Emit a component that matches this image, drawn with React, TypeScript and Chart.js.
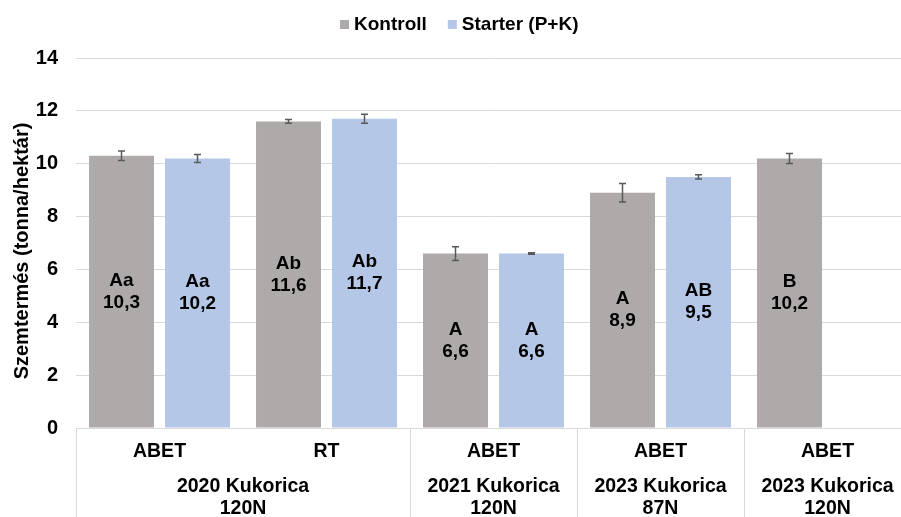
import React, { useEffect, useRef } from "react";
import { Chart, registerables } from "chart.js";

Chart.register(...registerables);

const categories = ["ABET", "RT", "ABET", "ABET", "ABET"];
const groupLabels = [
  { from: 0, to: 1, lines: ["2020 Kukorica", "120N"] },
  { from: 2, to: 2, lines: ["2021 Kukorica", "120N"] },
  { from: 3, to: 3, lines: ["2023 Kukorica", "87N"] },
  { from: 4, to: 4, lines: ["2023 Kukorica", "120N"] },
];
const kontrollValues = [10.3, 11.6, 6.6, 8.9, 10.2];
const starterValues: (number | null)[] = [10.2, 11.7, 6.6, 9.5, null];
const kontrollErrors = [0.18, 0.07, 0.26, 0.35, 0.19];
const starterErrors: (number | null)[] = [0.15, 0.17, 0.03, 0.08, null];
const kontrollLetters = ["Aa", "Ab", "A", "A", "B"];
const starterLetters: (string | null)[] = ["Aa", "Ab", "A", "AB", null];
const seriesNames = ["Kontroll", "Starter (P+K)"];
const seriesColors = ["#aeaaa9", "#b4c7e7"];
const yTitle = "Szemtermés (tonna/hektár)";

const FONT = "'Liberation Sans', Arial, sans-serif";

const customPlugin = {
  id: "custom",
  afterDatasetsDraw(chart: any) {
    const ctx = chart.ctx;
    const y = chart.scales.y;
    const x = chart.scales.x;
    const errs = [kontrollErrors, starterErrors];
    const letters = [kontrollLetters, starterLetters];
    ctx.save();
    chart.data.datasets.forEach((ds: any, di: number) => {
      const meta = chart.getDatasetMeta(di);
      meta.data.forEach((el: any, i: number) => {
        const v = ds.data[i];
        if (v == null) return;
        const e = errs[di][i];
        if (e != null) {
          const yt = y.getPixelForValue(v + e);
          const yb = y.getPixelForValue(v - e);
          ctx.strokeStyle = "#595959";
          ctx.lineWidth = 1.5;
          ctx.beginPath();
          ctx.moveTo(el.x, yt);
          ctx.lineTo(el.x, yb);
          ctx.moveTo(el.x - 3.5, yt);
          ctx.lineTo(el.x + 3.5, yt);
          ctx.moveTo(el.x - 3.5, yb);
          ctx.lineTo(el.x + 3.5, yb);
          ctx.stroke();
        }
        const mid = (el.y + el.base) / 2;
        ctx.fillStyle = "#000";
        ctx.font = `bold 19px ${FONT}`;
        ctx.textAlign = "center";
        ctx.textBaseline = "middle";
        ctx.fillText(letters[di][i] ?? "", el.x, mid - 11);
        ctx.fillText(v.toFixed(1).replace(".", ","), el.x, mid + 11);
      });
    });

    // x axis box
    const area = chart.chartArea;
    const bottom = chart.height;
    ctx.strokeStyle = "#d9d9d9";
    ctx.lineWidth = 1;
    ctx.beginPath();
    ctx.moveTo(area.left + 0.5, area.bottom);
    ctx.lineTo(area.left + 0.5, bottom);
    groupLabels.forEach((g) => {
      if (g.to < categories.length - 1) {
        const bx = Math.round((x.getPixelForValue(g.to) + x.getPixelForValue(g.to + 1)) / 2) + 0.5;
        ctx.moveTo(bx, area.bottom);
        ctx.lineTo(bx, bottom);
      }
    });
    ctx.stroke();

    ctx.fillStyle = "#000";
    ctx.font = `bold 19.5px ${FONT}`;
    ctx.textAlign = "center";
    ctx.textBaseline = "middle";
    categories.forEach((c, i) => {
      ctx.fillText(c, x.getPixelForValue(i), area.bottom + 24);
    });
    groupLabels.forEach((g) => {
      const cx = (x.getPixelForValue(g.from) + x.getPixelForValue(g.to)) / 2;
      g.lines.forEach((l, li) => {
        ctx.fillText(l, cx, area.bottom + 59 + li * 22);
      });
    });

    // y title
    ctx.save();
    ctx.translate(22, (area.top + area.bottom) / 2 + 8);
    ctx.rotate(-Math.PI / 2);
    ctx.font = `bold 20px ${FONT}`;
    ctx.fillText(yTitle, 0, 0);
    ctx.restore();

    // legend
    ctx.font = `bold 19px ${FONT}`;
    ctx.textAlign = "left";
    ctx.textBaseline = "middle";
    let lx = 340;
    seriesNames.forEach((n, i) => {
      ctx.fillStyle = seriesColors[i];
      ctx.fillRect(lx, 20, 9, 9);
      ctx.fillStyle = "#000";
      ctx.fillText(n, lx + 14, 24.5);
      lx += 14 + ctx.measureText(n).width + 21;
    });
    ctx.restore();
  },
};

export default function App() {
  const ref = useRef<HTMLCanvasElement>(null);
  useEffect(() => {
    if (!ref.current) return;
    const chart = new Chart(ref.current, {
      type: "bar",
      data: {
        labels: categories,
        datasets: [
          {
            label: seriesNames[0],
            data: kontrollValues,
            backgroundColor: seriesColors[0],
            categoryPercentage: 0.91,
            barPercentage: 0.855,
          },
          {
            label: seriesNames[1],
            data: starterValues,
            backgroundColor: seriesColors[1],
            categoryPercentage: 0.91,
            barPercentage: 0.855,
          },
        ],
      },
      options: {
        animation: false,
        responsive: true,
        maintainAspectRatio: false,
        layout: { padding: { top: 58, left: 0, right: 0, bottom: 0 } },
        plugins: { legend: { display: false }, tooltip: { enabled: false } },
        scales: {
          x: {
            ticks: { display: false },
            grid: { display: false },
            border: { display: false },
            afterFit: (s: any) => {
              s.height = 89;
            },
          },
          y: {
            min: 0,
            max: 14,
            ticks: {
              stepSize: 2,
              padding: 18,
              color: "#000",
              font: { family: FONT, size: 20, weight: "bold" },
            },
            grid: { color: "#d9d9d9", lineWidth: 1, drawTicks: false },
            border: { display: false },
            afterFit: (s: any) => {
              s.width = 76;
            },
          },
        },
      },
      plugins: [customPlugin],
    });
    return () => chart.destroy();
  }, []);
  return (
    <div style={{ position: "fixed", left: 0, top: 0, width: 901, height: 517, overflow: "hidden", background: "#fff" }}>
      <div style={{ position: "absolute", left: 0, top: 0, width: 911, height: 517 }}>
        <canvas ref={ref} />
      </div>
    </div>
  );
}
